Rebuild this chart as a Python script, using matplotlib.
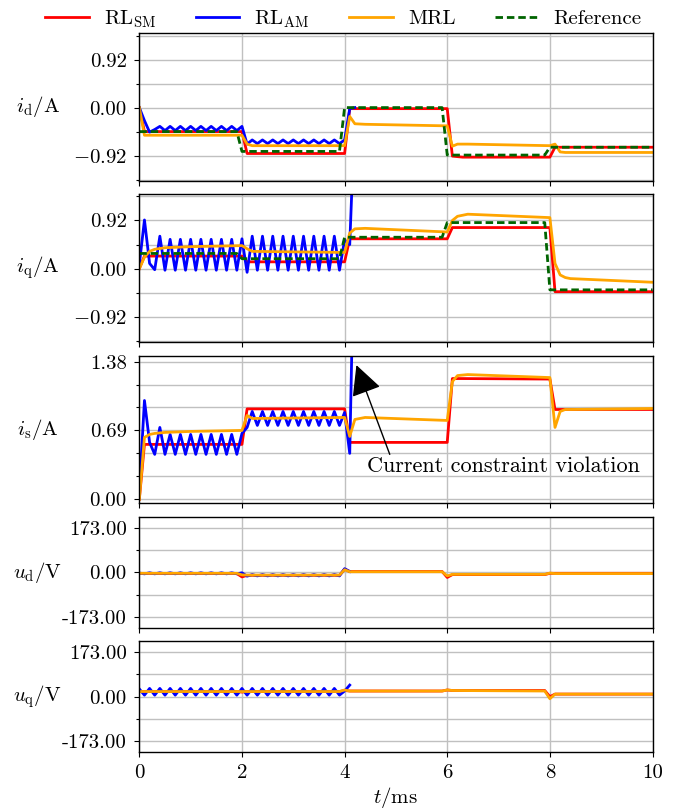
import numpy as np
import matplotlib
matplotlib.use("Agg")
import matplotlib.pyplot as plt
from matplotlib.ticker import FixedLocator, MultipleLocator

plt.rcParams['font.family'] = ['cmr10', 'DejaVu Serif']
plt.rcParams['mathtext.fontset'] = 'cm'
plt.rcParams['font.size'] = 15
plt.rcParams['axes.unicode_minus'] = False

# ---- data (t in ms) ----
# reference (dq current commands)
ref_t = [0, 1.9, 2.0, 3.9, 4.0, 5.9, 6.0, 7.9, 8.0, 10]
ref_id = [-0.46, -0.46, -0.84, -0.84, 0.0, 0.0, -0.91, -0.91, -0.76, -0.76]
ref_iq = [0.29, 0.29, 0.19, 0.19, 0.60, 0.60, 0.88, 0.88, -0.405, -0.405]

# RL_SM
sm_t = [0, 0.1, 2.0, 2.1, 4.0, 4.1, 6.0, 6.1, 6.3, 8.0, 8.1, 10]
sm_id = [0.0, -0.46, -0.46, -0.88, -0.88, -0.02, -0.02, -0.93, -0.95, -0.95, -0.76, -0.76]
sm_iq = [0.0, 0.24, 0.24, 0.13, 0.13, 0.57, 0.57, 0.785, 0.785, 0.785, -0.44, -0.44]
sm_is = [0.0, 0.55, 0.55, 0.906, 0.906, 0.57, 0.57, 1.21, 1.21, 1.205, 0.90, 0.90]

# MRL
mrl_t = [0, 0.1, 0.2, 0.3, 0.5, 1.0, 2.0, 2.1, 2.2, 4.0, 4.1, 4.2, 4.4, 6.0,
         6.1, 6.2, 6.4, 8.0, 8.1, 8.2, 8.3, 8.4, 10]
mrl_id = [0.0, -0.53, -0.53, -0.53, -0.53, -0.53, -0.53, -0.70, -0.73, -0.73,
          -0.17, -0.31, -0.32, -0.35, -0.74, -0.70, -0.70, -0.73, -0.70, -0.85,
          -0.86, -0.86, -0.86]
mrl_iq = [0.0, 0.22, 0.33, 0.37, 0.40, 0.42, 0.44, 0.38, 0.33, 0.31, 0.68,
          0.76, 0.77, 0.70, 0.92, 1.00, 1.04, 0.975, 0.10, -0.12, -0.17, -0.19,
          -0.26]
mrl_is = [0.0, 0.62, 0.65, 0.66, 0.67, 0.68, 0.69, 0.84, 0.81, 0.82, 0.63,
          0.80, 0.82, 0.79, 1.18, 1.24, 1.25, 1.22, 0.72, 0.88, 0.90, 0.90, 0.91]

# voltages (RL_SM, MRL)
u_t = [0, 1.9, 2.0, 2.1, 3.9, 4.0, 4.1, 5.9, 6.0, 6.1, 7.9, 8.0, 8.1, 10]
sm_ud = [-5, -5, -18, -12, -12, 12, 3, 3, -20, -9, -9, -4, -4, -4]
mrl_ud = [-4, -4, -10, -11, -11, 10, 2, 2, -14, -8, -8, -3, -5, -5]
sm_uq = [20, 20, 18, 20, 20, 24, 22, 22, 26, 24, 24, 0, 10, 10]
mrl_uq = [20, 20, 20, 20, 20, 26, 22, 22, 26, 24, 22, -8, 10, 10]

# RL_AM, sampled every 0.1 ms until it leaves the feasible region
am_t = [0.0, 0.1, 0.2, 0.3, 0.4, 0.5, 0.6, 0.7, 0.8, 0.9, 1.0, 1.1, 1.2, 1.3,
        1.4, 1.5, 1.6, 1.7, 1.8, 1.9, 2.0, 2.1, 2.2, 2.3, 2.4, 2.5, 2.6, 2.7,
        2.8, 2.9, 3.0, 3.1, 3.2, 3.3, 3.4, 3.5, 3.6, 3.7, 3.8, 3.9, 4.0, 4.1, 4.2]
am_id = [0.00, -0.25, -0.47, -0.42, -0.36, -0.44, -0.36, -0.44, -0.36, -0.44,
         -0.36, -0.44, -0.36, -0.44, -0.36, -0.44, -0.36, -0.44, -0.36, -0.44,
         -0.36, -0.70, -0.62, -0.69, -0.62, -0.69, -0.62, -0.69, -0.62, -0.69,
         -0.62, -0.69, -0.62, -0.69, -0.62, -0.69, -0.62, -0.69, -0.62, -0.69,
         -0.62, -0.02, 0.00]
am_iq = [0.08, 0.93, 0.10, -0.02, 0.62, -0.03, 0.56, -0.03, 0.56, -0.03,
         0.56, -0.03, 0.56, -0.03, 0.56, -0.03, 0.56, -0.03, 0.56, -0.03,
         0.57, -0.07, 0.62, -0.03, 0.62, -0.03, 0.62, -0.03, 0.62, -0.03,
         0.62, -0.03, 0.62, -0.03, 0.62, -0.03, 0.62, -0.03, 0.62, -0.03,
         0.55, 0.46, 3.0]
am_is = [0.08, 0.99, 0.57, 0.45, 0.72, 0.45, 0.65, 0.45, 0.65, 0.45,
         0.65, 0.45, 0.65, 0.45, 0.65, 0.45, 0.65, 0.45, 0.65, 0.45,
         0.66, 0.72, 0.88, 0.74, 0.88, 0.74, 0.88, 0.74, 0.88, 0.74,
         0.88, 0.74, 0.88, 0.74, 0.88, 0.74, 0.88, 0.74, 0.88, 0.74,
         0.87, 0.46, 3.0]
am_ud = [-3, -6, -2, -6, -2, -6, -2, -6, -2, -6,
         -2, -6, -2, -6, -2, -6, -2, -6, -2, -6,
         -2, -15, -9, -14, -9, -14, -9, -14, -9, -14,
         -9, -14, -9, -14, -9, -14, -9, -14, -9, -14,
         14, 3, np.nan]
am_uq = [30, 6, 32, 6, 32, 6, 32, 6, 32, 6,
         32, 6, 32, 6, 32, 6, 32, 6, 32, 6,
         32, 6, 32, 6, 32, 6, 32, 6, 32, 6,
         32, 6, 32, 6, 32, 6, 32, 6, 32, 6,
         22, 45, np.nan]

# ---- figure ----
fig = plt.figure(figsize=(6.87, 8.11), dpi=100)
gs = fig.add_gridspec(5, 1, height_ratios=[4, 4, 4, 3, 3], left=0.2028,
                      right=0.9498, top=0.9593, bottom=0.0727, hspace=0.103)
axes = [fig.add_subplot(gs[i]) for i in range(5)]

c_sm, c_am, c_mrl, c_ref = 'red', 'blue', 'orange', 'darkgreen'
lw = 2.0

panels = [
    (sm_id, am_id, mrl_id, ref_id, r'$i_{\mathrm{d}}/\mathrm{A}$'),
    (sm_iq, am_iq, mrl_iq, ref_iq, r'$i_{\mathrm{q}}/\mathrm{A}$'),
    (sm_is, am_is, mrl_is, None, r'$i_{\mathrm{s}}/\mathrm{A}$'),
]
for ax, (sm, am, mrl, ref, lab) in zip(axes[:3], panels):
    ax.plot(sm_t, sm, color=c_sm, lw=lw, label=r'$\mathrm{RL}_{\mathrm{SM}}$')
    ax.plot(am_t, am, color=c_am, lw=lw, label=r'$\mathrm{RL}_{\mathrm{AM}}$')
    ax.plot(mrl_t, mrl, color=c_mrl, lw=lw, label='MRL')
    if ref is not None:
        ax.plot(ref_t, ref, color=c_ref, lw=lw, dashes=(2.7, 1.4), label='Reference')
    ax.set_ylabel(lab)

for ax, sm, am, mrl, lab in [(axes[3], sm_ud, am_ud, mrl_ud, r'$u_{\mathrm{d}}/\mathrm{V}$'),
                             (axes[4], sm_uq, am_uq, mrl_uq, r'$u_{\mathrm{q}}/\mathrm{V}$')]:
    ax.plot(u_t, sm, color=c_sm, lw=lw)
    ax.plot(am_t, am, color=c_am, lw=lw)
    ax.plot(u_t, mrl, color=c_mrl, lw=lw)
    ax.set_ylabel(lab)

# y axes
ylims = [(-1.40, 1.43), (-1.40, 1.42), (-0.04, 1.44), (-215, 215), (-215, 215)]
majors = [[-0.92, 0, 0.92], [-0.92, 0, 0.92], [0, 0.69, 1.38],
          [-173, 0, 173], [-173, 0, 173]]
major_labels = [['$-0.92$', '0.00', '0.92'], ['$-0.92$', '0.00', '0.92'],
                ['0.00', '0.69', '1.38'], ['-173.00', '0.00', '173.00'],
                ['-173.00', '0.00', '173.00']]
minor_steps = [0.46, 0.46, 0.23, 86.5, 86.5]

for i, ax in enumerate(axes):
    ax.set_xlim(0, 10)
    ax.set_ylim(*ylims[i])
    ax.yaxis.set_major_locator(FixedLocator(majors[i]))
    ax.set_yticklabels(major_labels[i])
    ax.yaxis.set_minor_locator(MultipleLocator(minor_steps[i]))
    ax.xaxis.set_major_locator(MultipleLocator(2))
    ax.grid(True, which='major', color='#c0c0c0', lw=1.0)
    ax.grid(True, which='minor', axis='y', color='#c0c0c0', lw=1.0)
    ax.set_axisbelow(True)
    ax.tick_params(which='major', direction='out', length=3.5, width=0.8, pad=5.5)
    ax.tick_params(which='minor', direction='out', length=2.5, width=0.8)
    ax.yaxis.set_label_coords(-0.198, 0.5)
    ax.yaxis.label.set_rotation(0)
    ax.yaxis.label.set_ha('center')
    ax.yaxis.label.set_va('center')
    for sp in ax.spines.values():
        sp.set_linewidth(1.0)
    if i < 4:
        ax.tick_params(axis='x', labelbottom=False)

axes[4].set_xlabel(r'$t/\mathrm{ms}$', labelpad=2)

# constraint violation note
axes[2].annotate('', xy=(4.23, 1.345), xytext=(4.88, 0.45),
                 arrowprops=dict(arrowstyle='-|>,head_length=0.75,head_width=0.38',
                                 mutation_scale=25, color='black', lw=1.0,
                                 shrinkA=0, shrinkB=0))
axes[2].text(7.09, 0.33, 'Current constraint violation', ha='center',
             va='center', fontsize=16)

handles, labels = axes[0].get_legend_handles_labels()
fig.legend(handles, labels, loc='upper center', bbox_to_anchor=(0.5, 1.0),
           ncol=4, frameon=False, handlelength=2.1, handletextpad=0.72,
           columnspacing=1.9, borderaxespad=0.0)

fig.savefig('out.png', dpi=100)
